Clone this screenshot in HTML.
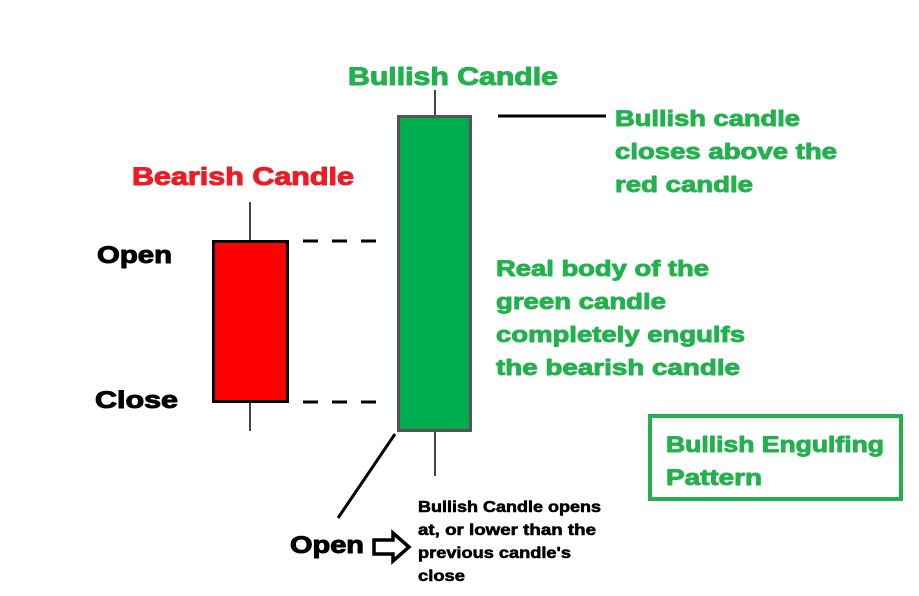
<!DOCTYPE html>
<html><head><meta charset="utf-8"><style>
html,body{margin:0;padding:0;background:#fff;width:919px;height:596px;overflow:hidden}
svg{display:block}
text{font-family:"Liberation Sans",Arial,sans-serif;font-weight:bold}
</style></head><body>
<svg width="919" height="596" viewBox="0 0 919 596" xmlns="http://www.w3.org/2000/svg">
<rect width="919" height="596" fill="#fff"/>
<line x1="250" y1="202" x2="250" y2="240" stroke="#444" stroke-width="2"/>
<line x1="250" y1="403" x2="250" y2="431" stroke="#444" stroke-width="2"/>
<rect x="213.5" y="241.5" width="74" height="160" fill="#ff0000" stroke="#000" stroke-width="3"/>
<line x1="435" y1="90" x2="435" y2="116" stroke="#444" stroke-width="2"/>
<line x1="435" y1="431" x2="435" y2="476" stroke="#444" stroke-width="2"/>
<rect x="398.5" y="116.5" width="72" height="314" fill="#00ad4e" stroke="#555" stroke-width="3"/>
<line x1="303" y1="241" x2="381" y2="241" stroke="#000" stroke-width="3" stroke-dasharray="15 14"/>
<line x1="303" y1="402" x2="381" y2="402" stroke="#000" stroke-width="3" stroke-dasharray="15 14"/>
<line x1="498" y1="116" x2="606" y2="116" stroke="#000" stroke-width="3"/>
<line x1="395" y1="434" x2="338" y2="518" stroke="#000" stroke-width="3"/>
<polygon points="374,540 393,540 393,533 409,547 393,561 393,554 374,554" fill="#fff" stroke="#000" stroke-width="3.5"/>
<rect x="650" y="416" width="251" height="83" fill="none" stroke="#22b14c" stroke-width="4"/>
<g stroke-width="1" stroke-linejoin="round">
<text x="348" y="85" font-size="25" fill="#22b14c" stroke="#22b14c" textLength="210" lengthAdjust="spacingAndGlyphs">Bullish Candle</text>
<text x="132" y="185" font-size="25" fill="#ed1c24" stroke="#ed1c24" textLength="222" lengthAdjust="spacingAndGlyphs">Bearish Candle</text>
<text x="97" y="263" font-size="24" fill="#000" stroke="#000" textLength="75" lengthAdjust="spacingAndGlyphs">Open</text>
<text x="95" y="408" font-size="24" fill="#000" stroke="#000" textLength="83" lengthAdjust="spacingAndGlyphs">Close</text>
<text x="290" y="553" font-size="24" fill="#000" stroke="#000" textLength="74" lengthAdjust="spacingAndGlyphs">Open</text>
</g>
<g font-size="22" fill="#22b14c" stroke="#22b14c" stroke-width="0.9" stroke-linejoin="round">
<text x="615" y="126" textLength="185" lengthAdjust="spacingAndGlyphs">Bullish candle</text>
<text x="615" y="159" textLength="222" lengthAdjust="spacingAndGlyphs">closes above the</text>
<text x="615" y="192" textLength="138" lengthAdjust="spacingAndGlyphs">red candle</text>
<text x="496" y="276" textLength="213" lengthAdjust="spacingAndGlyphs">Real body of the</text>
<text x="496" y="309" textLength="170" lengthAdjust="spacingAndGlyphs">green candle</text>
<text x="496" y="342" textLength="249" lengthAdjust="spacingAndGlyphs">completely engulfs</text>
<text x="496" y="375" textLength="244" lengthAdjust="spacingAndGlyphs">the bearish candle</text>
<text x="666" y="452" textLength="218" lengthAdjust="spacingAndGlyphs">Bullish Engulfing</text>
<text x="666" y="485" textLength="96" lengthAdjust="spacingAndGlyphs">Pattern</text>
</g>
<g font-size="16" fill="#000" stroke="#000" stroke-width="0.6" stroke-linejoin="round">
<text x="418" y="512" textLength="183" lengthAdjust="spacingAndGlyphs">Bullish Candle opens</text>
<text x="418" y="535" textLength="178" lengthAdjust="spacingAndGlyphs">at, or lower than the</text>
<text x="418" y="558" textLength="153" lengthAdjust="spacingAndGlyphs">previous candle's</text>
<text x="418" y="581" textLength="47" lengthAdjust="spacingAndGlyphs">close</text>
</g>
</svg>
</body></html>
